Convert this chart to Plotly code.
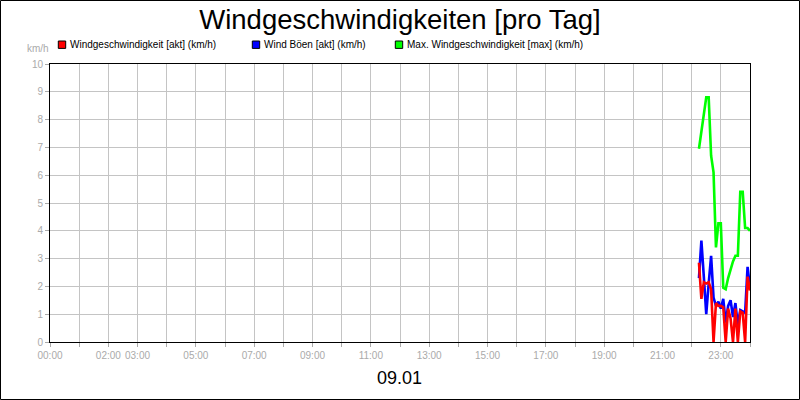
import plotly.graph_objects as go

# 5-minute samples on 09.01, from 22:15 to 24:00
times = ["22:15", "22:20", "22:25", "22:30", "22:35", "22:40", "22:45", "22:50",
         "22:55", "23:00", "23:05", "23:10", "23:15", "23:20", "23:25", "23:30",
         "23:35", "23:40", "23:45", "23:50", "23:55", "24:00"]

wind_akt = [2.85, 1.55, 2.15, 2.1, 2.15, 1.9, 0.0, 1.4, 1.3, 1.3, 1.25,
            0.0, 1.2, 0.85, 0.0, 1.2, 0.0, 1.1, 1.05, 0.0, 2.35, 1.85]
wind_boeen = [2.3, 3.65, 2.35, 1.0, 2.1, 3.1, 1.6, 1.3, 1.45, 1.2, 1.55,
              0.7, 1.3, 1.5, 0.9, 1.4, 0.6, 1.15, 1.1, 1.05, 2.7, 1.95]
wind_max = [6.95, 7.6, 8.2, 8.8, 8.8, 6.7, 6.1, 3.4, 4.27, 4.27, 1.95,
            1.9, 2.3, 2.6, 2.9, 3.1, 3.1, 5.4, 5.4, 4.1, 4.1, 4.0]

series_names = ["Windgeschwindigkeit [akt] (km/h)",
                "Wind Böen [akt] (km/h)",
                "Max. Windgeschwindigkeit [max] (km/h)"]
series_colors = ["#ff0000", "#0000ff", "#00ff00"]

hour_ticks = list(range(0, 25))
hour_labels = ["00:00", "", "02:00", "03:00", "", "05:00", "", "07:00", "", "09:00",
               "", "11:00", "", "13:00", "", "15:00", "", "17:00", "", "19:00",
               "", "21:00", "", "23:00", ""]

day_label = "09.01"
title_text = "Windgeschwindigkeiten [pro Tag]"
unit_label = "km/h"

FONT = "Liberation Sans, Arial, sans-serif"
GRAY = "#aaaaaa"

# pixel -> paper helpers (plot area spans x 50..750, y 64..342)
def px_x(px):
    return (px - 50) / 700

def px_y(py):
    return (342 - py) / 278

hours = [int(t[:2]) + int(t[3:]) / 60 for t in times]

fig = go.Figure()
# draw order: max (green) behind, then gusts, then current speed on top
for idx in [2, 1, 0]:
    values = [wind_akt, wind_boeen, wind_max][idx]
    fig.add_trace(go.Scatter(
        x=hours, y=values, mode="lines",
        line=dict(color=series_colors[idx], width=2.6),
        name=series_names[idx], showlegend=False
    ))

axis_common = dict(
    showgrid=True, gridcolor="#c4c4c4", gridwidth=1,
    showline=True, linecolor="black", linewidth=1, mirror=True,
    ticks="outside", ticklen=4, tickcolor=GRAY,
    tickfont=dict(size=10, color=GRAY, family=FONT),
    zeroline=False, fixedrange=True
)

fig.update_layout(
    width=800, height=400,
    margin=dict(l=50, r=50, t=64, b=58),
    paper_bgcolor="white", plot_bgcolor="white",
    font=dict(family=FONT),
    title=dict(text=title_text, x=0.5, xanchor="center", y=1 - 19 / 400,
               yanchor="middle", font=dict(size=27.5, color="black", family=FONT)),
    xaxis=dict(range=[0, 24], tickmode="array", tickvals=hour_ticks,
               ticktext=hour_labels, **axis_common),
    yaxis=dict(range=[0, 10], dtick=1, tick0=0, **axis_common),
    showlegend=False
)

# legend squares + labels
legend_x = [58.3, 252.3, 395.3]
shapes = []
annotations = []
for name, color, lx in zip(series_names, series_colors, legend_x):
    shapes.append(dict(type="rect", xref="paper", yref="paper",
                       x0=px_x(lx), x1=px_x(lx + 7.4), y0=px_y(48.4), y1=px_y(41),
                       fillcolor=color, line=dict(color="black", width=1)))
    annotations.append(dict(text=name, xref="paper", yref="paper",
                            x=px_x(lx + 9.8), y=px_y(45), xanchor="left", yanchor="middle",
                            showarrow=False, font=dict(size=10, color="black", family=FONT)))

# outer frame around the whole picture
shapes.append(dict(type="rect", xref="paper", yref="paper",
                   x0=px_x(0.5), x1=px_x(799.5), y0=px_y(399.5), y1=px_y(0.5),
                   line=dict(color="black", width=1), fillcolor="rgba(0,0,0,0)"))

annotations.append(dict(text=unit_label, xref="paper", yref="paper",
                        x=px_x(37.5), y=px_y(49), xanchor="center", yanchor="middle",
                        showarrow=False, font=dict(size=10, color=GRAY, family=FONT)))
annotations.append(dict(text=day_label, xref="paper", yref="paper",
                        x=px_x(399), y=px_y(378), xanchor="center", yanchor="middle",
                        showarrow=False, font=dict(size=18, color="black", family=FONT)))

fig.update_layout(shapes=shapes, annotations=annotations)

# drop the default page margin so the 800x400 figure sits at the window origin
fig.write_html("out.html", config={"displayModeBar": False},
               post_script="document.body.style.margin='0';")
